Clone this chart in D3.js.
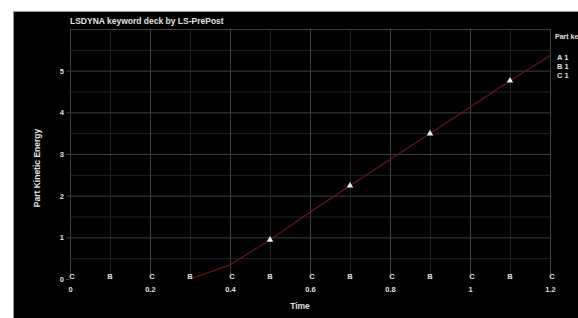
<!DOCTYPE html>
<html>
<head>
<meta charset="utf-8">
<script src="https://cdn.jsdelivr.net/npm/d3@7"></script>
<style>
	body { margin: 0; background: #fff; }
	svg text { font-family: "Liberation Sans", Arial, sans-serif; font-weight: bold; fill: #e0e0e0; }
	.grid line { stroke: #242424; }
	.grid path { display: none; }
	.major line { stroke: #3e3e3e; }
</style>
</head>
<body>
<div id="chart"></div>
<script>
"use strict";

const TITLE = 'LSDYNA keyword deck by LS-PrePost';
const X_TITLE = 'Time';
const Y_TITLE = 'Part Kinetic Energy';

// part A curve (kinetic energy vs time), visible from t=0.3
const timeA = [0.3, 0.4, 0.5, 0.6, 0.7, 0.8, 0.9, 1.0, 1.1, 1.2];
const energyA = [0, 0.34, 0.94, 1.6, 2.24, 2.87, 3.49, 4.12, 4.76, 5.36];
const symbolTimeA = [0.5, 0.7, 0.9, 1.1];
const symbolEnergyA = [0.94, 2.24, 3.49, 4.76];

// parts B and C stay at zero, label symbols alternate
const symbolTimeB = [0.1, 0.3, 0.5, 0.7, 0.9, 1.1];
const symbolTimeC = [0, 0.2, 0.4, 0.6, 0.8, 1.0, 1.2];
const energyB = [0, 0, 0, 0, 0, 0];
const energyC = [0, 0, 0, 0, 0, 0, 0];

const legendTitle = 'Part ke';
const legendItems = ['A 1', 'B 1', 'C 1'];

const xTicks = [0, 0.2, 0.4, 0.6, 0.8, 1, 1.2];
const yTicks = [0, 1, 2, 3, 4, 5];

const W = 578, H = 318;
const PLOT = { left: 70, right: 550, top: 29, bottom: 279 };

const svg = d3.select('#chart').append('svg')
	.attr('width', W)
	.attr('height', H);

// black frame
svg.append('rect').attr('x', 13).attr('y', 11).attr('width', W - 13).attr('height', H - 11)
	.attr('fill', '#000');
svg.append('line').attr('x1', 13).attr('x2', W).attr('y1', 11.5).attr('y2', 11.5).attr('stroke', '#999');
svg.append('line').attr('x1', 13.5).attr('x2', 13.5).attr('y1', 11).attr('y2', H).attr('stroke', '#999');

const x = d3.scaleLinear().domain([0, 1.2]).range([PLOT.left, PLOT.right]);
const y = d3.scaleLinear().domain([0, 6]).range([PLOT.bottom, PLOT.top]);

// minor grid
svg.append('g').attr('class', 'grid')
	.attr('transform', `translate(0,${PLOT.bottom})`)
	.call(d3.axisBottom(x).tickValues(d3.range(1, 12, 2).map(d => d / 10)).tickSize(-(PLOT.bottom - PLOT.top)).tickFormat(''));
svg.append('g').attr('class', 'grid')
	.attr('transform', `translate(${PLOT.left},0)`)
	.call(d3.axisLeft(y).tickValues(d3.range(0.5, 6, 1)).tickSize(-(PLOT.right - PLOT.left)).tickFormat(''));

// major grid
svg.append('g').attr('class', 'grid major')
	.attr('transform', `translate(0,${PLOT.bottom})`)
	.call(d3.axisBottom(x).tickValues(xTicks.slice(1)).tickSize(-(PLOT.bottom - PLOT.top)).tickFormat(''));
svg.append('g').attr('class', 'grid major')
	.attr('transform', `translate(${PLOT.left},0)`)
	.call(d3.axisLeft(y).tickValues(yTicks.slice(1).concat([6])).tickSize(-(PLOT.right - PLOT.left)).tickFormat(''));

// left axis line
svg.append('line').attr('x1', PLOT.left + 0.5).attr('x2', PLOT.left + 0.5)
	.attr('y1', PLOT.top).attr('y2', PLOT.bottom).attr('stroke', '#3e3e3e');

// tick labels
const yAxis = svg.append('g')
	.attr('transform', `translate(${PLOT.left},0)`)
	.call(d3.axisLeft(y).tickValues(yTicks).tickSize(4).tickPadding(2).tickFormat(d3.format('d')));
yAxis.select('.domain').remove();
yAxis.selectAll('line').attr('stroke', '#3e3e3e');
yAxis.selectAll('text').attr('font-size', 7.5).attr('fill', '#e0e0e0');

const xAxis = svg.append('g')
	.attr('transform', `translate(0,${PLOT.bottom})`)
	.call(d3.axisBottom(x).tickValues(xTicks).tickSize(0).tickPadding(8).tickFormat(d3.format('')));
xAxis.select('.domain').remove();
xAxis.selectAll('text').attr('font-size', 7.5).attr('fill', '#e0e0e0');

// curve A
svg.append('path')
	.datum(timeA.map((t, i) => [t, energyA[i]]))
	.attr('fill', 'none')
	.attr('stroke', '#6e1216')
	.attr('stroke-width', 1.2)
	.attr('d', d3.line().x(d => x(d[0])).y(d => y(d[1])));

svg.selectAll('.symA')
	.data(symbolTimeA.map((t, i) => [t, symbolEnergyA[i]]))
	.join('path')
	.attr('class', 'symA')
	.attr('transform', d => `translate(${x(d[0])},${y(d[1])})`)
	.attr('d', d3.symbol(d3.symbolTriangle, 18))
	.attr('fill', '#ececec');

// B and C label symbols
svg.selectAll('.symB')
	.data(symbolTimeB.map((t, i) => [t, energyB[i]]))
	.join('text')
	.attr('class', 'symB')
	.attr('x', d => x(d[0]))
	.attr('y', d => y(d[1]))
	.attr('text-anchor', 'middle')
	.attr('font-size', 7.5)
	.text('B');

svg.selectAll('.symC')
	.data(symbolTimeC.map((t, i) => [t, energyC[i]]))
	.join('text')
	.attr('class', 'symC')
	.attr('x', d => x(d[0]) + 2)
	.attr('y', d => y(d[1]))
	.attr('text-anchor', 'middle')
	.attr('font-size', 7.5)
	.text('C');

// titles
svg.append('text').attr('x', PLOT.left).attr('y', 24).attr('font-size', 8.5).text(TITLE);
svg.append('text').attr('x', x(0.6) - 10).attr('y', 309).attr('text-anchor', 'middle').attr('font-size', 8.5).text(X_TITLE);
svg.append('text')
	.attr('transform', `translate(40,${(PLOT.top + PLOT.bottom) / 2 + 14}) rotate(-90)`)
	.attr('text-anchor', 'middle').attr('font-size', 8.5).text(Y_TITLE);

// legend
svg.append('text').attr('x', 555).attr('y', 39).attr('font-size', 7).text(legendTitle);
svg.selectAll('.leg')
	.data(legendItems)
	.join('text')
	.attr('class', 'leg')
	.attr('x', 557)
	.attr('y', (d, i) => 60 + i * 9)
	.attr('font-size', 7.5)
	.attr('xml:space', 'preserve')
	.text(d => d);
</script>
</body>
</html>
